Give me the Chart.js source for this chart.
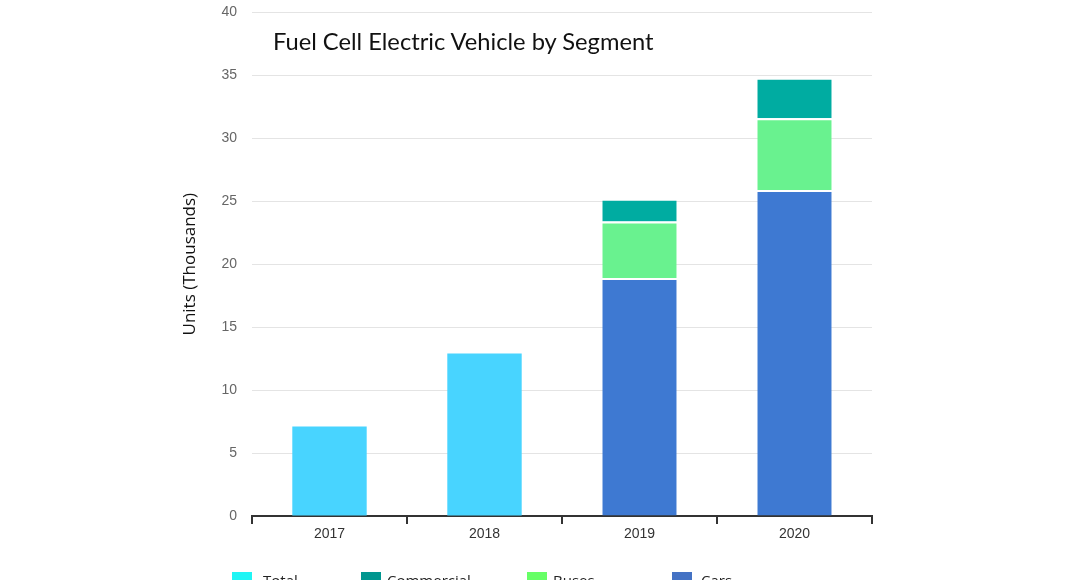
<!DOCTYPE html>
<html>
<head>
<meta charset="utf-8">
<script src="https://cdn.jsdelivr.net/npm/chart.js@4.4.1/dist/chart.umd.min.js"></script>
<style>
  body { margin: 0; background: #fff; overflow: hidden; }
  #wrap { position: relative; width: 1068px; height: 580px; overflow: hidden; }
  #BarChart { position: absolute; left: 0; top: -11px; }
  #title { position: absolute; left: 273px; top: 27px; font-family: Lato, sans-serif; font-size: 23.7px; color: #111; white-space: nowrap; }
  .sw { position: absolute; top: 572px; width: 20px; height: 14px; }
  .lt { position: absolute; top: 570px; font-family: "Open Sans", sans-serif; font-size: 15px; color: #222; white-space: nowrap; }
</style>
</head>
<body>
<div id="wrap">
  <canvas id="BarChart" width="1068" height="591"></canvas>
  <div id="title">Fuel Cell Electric Vehicle by Segment</div>
  <div id="legend"></div>
</div>
<script>
var years = ["2017", "2018", "2019", "2020"];
var totalValues = [7.1, 12.9, null, null];
var carsValues = [null, null, 18.9, 25.9];
var busesValues = [null, null, 4.5, 5.7];
var commercialValues = [null, null, 1.8, 3.2];

var legendNames = ["Total", "Commercial", "Buses", "Cars"];
var legendColors = ["#1ff5f5", "#00968f", "#66ff66", "#4472c4"];
var legendSwatchX = [232, 361, 527, 672];
var legendTextX = [263, 387, 553, 701];

// legend below the plot (cut off by the bottom edge, as in the original)
var legendHtml = "";
for (var i = 0; i < legendNames.length; i++) {
  legendHtml += '<div class="sw" style="left:' + legendSwatchX[i] + 'px;background:' + legendColors[i] + '"></div>' +
    '<div class="lt" style="left:' + legendTextX[i] + 'px">' + legendNames[i] + '</div>';
}
document.getElementById("legend").innerHTML = legendHtml;

var segBorder = {top: 2, left: 0, right: 0, bottom: 0};

new Chart("BarChart", {
  type: "bar",
  data: {
    labels: years,
    datasets: [{
      label: "Total",
      data: totalValues,
      backgroundColor: "#48d4ff",
      borderWidth: 0
    }, {
      label: "Cars",
      data: carsValues,
      backgroundColor: "#3e79d2",
      borderColor: "#ffffff",
      borderWidth: segBorder
    }, {
      label: "Buses",
      data: busesValues,
      backgroundColor: "#69f28f",
      borderColor: "#ffffff",
      borderWidth: segBorder
    }, {
      label: "Commercial",
      data: commercialValues,
      backgroundColor: "#00aca1",
      borderColor: "#ffffff",
      borderWidth: segBorder
    }]
  },
  options: {
    responsive: false,
    animation: false,
    events: [],
    layout: {padding: {left: 180, right: 196, top: 4, bottom: 0}},
    datasets: {bar: {categoryPercentage: 1, barPercentage: 0.48, skipNull: false}},
    plugins: {
      legend: {display: false},
      tooltip: {enabled: false}
    },
    scales: {
      x: {
        stacked: true,
        afterFit: function (s) { s.height = 64; },
        border: {color: "#333", width: 2},
        grid: {drawOnChartArea: false, drawTicks: true, tickLength: 8, color: "#333", lineWidth: 2},
        ticks: {color: "#333", padding: 2, font: {family: "Liberation Sans", size: 14}}
      },
      y: {
        stacked: true,
        min: 0,
        max: 40,
        afterFit: function (s) { s.width = 72; },
        border: {display: false},
        grid: {color: "#e4e4e4", drawTicks: false},
        ticks: {stepSize: 5, color: "#666", padding: 15, font: {family: "Liberation Sans", size: 14}},
        title: {
          display: true,
          text: "Units (Thousands)",
          color: "#111",
          padding: 0,
          font: {family: "Open Sans", size: 17}
        }
      }
    }
  }
});
</script>
</body>
</html>
